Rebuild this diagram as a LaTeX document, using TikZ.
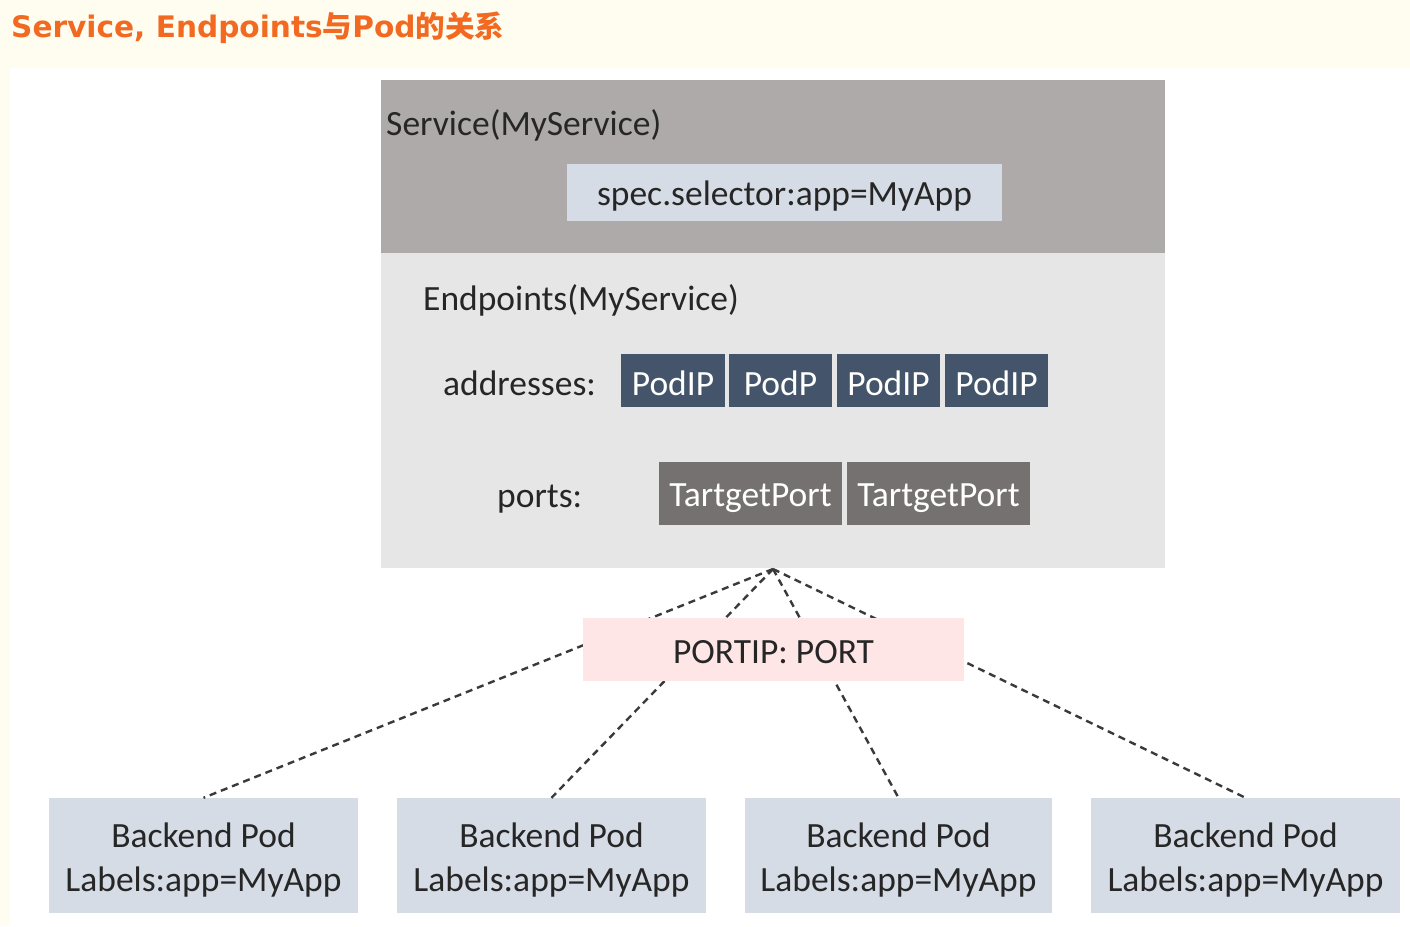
\documentclass[tikz,border=0pt]{standalone}
\usepackage{fontspec}
\setmainfont{Carlito}
\newfontfamily\titlefont{DejaVu Sans}
\newfontfamily\cjk{Noto Sans CJK SC}
\definecolor{cream}{HTML}{FFFDF0}
\definecolor{titleorange}{HTML}{F26A21}
\definecolor{svcgray}{HTML}{AEAAAA}
\definecolor{epgray}{HTML}{E7E6E6}
\definecolor{bluegray}{HTML}{D6DCE5}
\definecolor{slate}{HTML}{44546A}
\definecolor{warmgray}{HTML}{767171}
\definecolor{portpink}{HTML}{FFE6E6}
\definecolor{ink}{HTML}{262626}
\definecolor{linkgray}{HTML}{3A3A3A}
\begin{document}
\begin{tikzpicture}[x=1pt,y=-1pt,
  txt/.style={inner sep=0pt, font=\fontsize{35.5}{44}\selectfont, text=ink},
  ctr/.style={txt, text depth=0pt},
  blk/.style={draw=none, inner sep=0pt},
  podip/.style={ctr, blk, text height=29pt, fill=slate, text=white, minimum width=103pt, minimum height=53pt},
  tport/.style={ctr, blk, text height=25pt, fill=warmgray, text=white, minimum width=183pt, minimum height=63pt},
  pod/.style={blk, fill=bluegray, minimum width=309pt, minimum height=115pt},
  link/.style={draw=linkgray, line width=2.4pt, dash pattern=on 7pt off 5pt}
]
% page background
\fill[cream] (0,0) rectangle (1410,926);
\fill[white] (10,68) rectangle (1410,926);
\path[use as bounding box] (0,0) rectangle (1410,926);

% title
\node[anchor=base west, inner sep=0pt, text=titleorange] (title) at (11,37)
  {\fontsize{29.6}{31}\selectfont\bfseries\titlefont Service, Endpoints{\cjk\bfseries 与}Pod{\cjk\bfseries 的关系}};

% service and endpoints panels
\node[blk, fill=svcgray, minimum width=784pt, minimum height=173pt] (svc) at (773,166.5) {};
\node[blk, fill=epgray, minimum width=784pt, minimum height=315pt] (ep) at (773,410.5) {};

\node[txt, anchor=base west] (svct) at (386,135) {Service(MyService)};
\node[ctr, blk, text height=25.6pt, fill=bluegray, minimum width=435pt, minimum height=57pt] (spec) at (784.5,192.5) {spec.selector:app=MyApp};

\node[txt, anchor=base west] (ept) at (423,310) {Endpoints(MyService)};
\node[txt, anchor=base west] (addr) at (443,395) {addresses:};
\node[txt, anchor=base west] (ports) at (497,507) {ports:};

\node[podip, minimum width=104pt] (ip1) at (673,380.5) {PodIP};
\node[podip] (ip2) at (780.5,380.5) {PodP};
\node[podip] (ip3) at (888.5,380.5) {PodIP};
\node[podip] (ip4) at (996.5,380.5) {PodIP};

\node[tport] (tp1) at (750.5,493.5) {TartgetPort};
\node[tport] (tp2) at (938.5,493.5) {TartgetPort};

% backend pods
\node[pod] (p1) at (203.5,855.5) {};
\node[pod] (p2) at (551.5,855.5) {};
\node[pod, minimum width=307pt] (p3) at (898.5,855.5) {};
\node[pod] (p4) at (1245.5,855.5) {};

\foreach \n/\x in {p1/203.5, p2/551.5, p3/898.5, p4/1245.5}{
  \node[txt, anchor=base] (\n a) at (\x,847) {Backend Pod};
  \node[txt, anchor=base] (\n b) at (\x,891) {Labels:app=MyApp};
}

% connectors
\coordinate (hub) at (773,569);
\draw[link] (hub) -- (p1.north);
\draw[link] (hub) -- (p2.north);
\draw[link] (hub) -- (p3.north);
\draw[link] (hub) -- (p4.north);

% port label on top of the connectors
\node[ctr, blk, text height=27.6pt, fill=portpink, minimum width=381pt, minimum height=63pt] (portip) at (773.5,649.5) {PORTIP: PORT};
\end{tikzpicture}
\end{document}
